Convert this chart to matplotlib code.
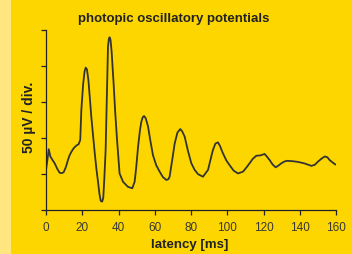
import numpy as np
import matplotlib.pyplot as plt

# latency (ms) and amplitude (divisions of 50 µV)
latency = [0, 0.8, 1.5, 2.4, 3.5, 4.8, 6.2, 7.5, 8.6, 9.7, 11, 12.1, 13, 14,
           15.3, 16.7, 18, 18.9, 19.5, 20.5, 21.3, 21.9, 22.6, 23.4, 24.2, 25,
           26, 26.9, 27.8, 28.7, 29.5, 30.2, 31, 31.6, 32.2, 32.9, 33.6, 34.2,
           34.7, 35.1, 35.6, 36.2, 37.3, 38.2, 39.2, 40.6, 42.5, 45.2, 47.6,
           48.9, 49.8, 50.8, 51.8, 52.6, 53.4, 54.1, 55, 56.3, 57.5, 59, 60.8,
           62.7, 64.5, 66.4, 67.5, 68.2, 69.5, 71, 72.5, 74.1, 75.2, 76.5,
           78.3, 80.2, 82, 83.9, 86.6, 89.4, 91, 92.1, 93.5, 94.9, 96, 97.6,
           99.5, 101.3, 103.5, 105.9, 108.7, 110.5, 112.3, 114, 116, 118.3,
           120.6, 122, 123.4, 125, 126.7, 128.3, 129.8, 131.5, 133, 136, 139,
           142.5, 146.4, 148.3, 150.1, 152, 153.8, 155.2, 156.5, 158, 159.6]
amplitude = [1.12, 1.4, 1.69, 1.49, 1.40, 1.30, 1.15, 1.04, 1.03, 1.05, 1.2,
             1.39, 1.52, 1.62, 1.72, 1.79, 1.83, 1.95, 2.78, 3.5, 3.85, 3.95,
             3.9, 3.6, 3.1, 2.59, 2.05, 1.58, 1.15, 0.79, 0.45, 0.26, 0.24,
             0.35, 0.9, 1.67, 3.2, 4.53, 4.75, 4.79, 4.72, 4.4, 3.51, 2.7, 1.95,
             1.02, 0.79, 0.65, 0.61, 0.79, 1.2, 1.76, 2.2, 2.45, 2.58, 2.61,
             2.55, 2.32, 1.95, 1.53, 1.25, 1.07, 0.92, 0.84, 0.86, 0.93, 1.35,
             1.85, 2.15, 2.25, 2.18, 2.04, 1.65, 1.30, 1.12, 1.00, 0.93, 1.12,
             1.45, 1.67, 1.85, 1.88, 1.78, 1.58, 1.38, 1.25, 1.10, 1.02, 1.07,
             1.18, 1.30, 1.42, 1.51, 1.52, 1.56, 1.48, 1.39, 1.27, 1.19, 1.24,
             1.30, 1.35, 1.37, 1.36, 1.34, 1.30, 1.23, 1.26, 1.35, 1.43, 1.49,
             1.47, 1.39, 1.33, 1.27]

x_ticks = [0, 20, 40, 60, 80, 100, 120, 140, 160]
y_ticks = [0, 1, 2, 3, 4, 5]

bg = '#FDD600'
plt.rcParams['font.family'] = ['Liberation Sans', 'DejaVu Sans']

fig = plt.figure(figsize=(3.52, 2.54), dpi=100, facecolor=bg)
# lighter strip on the left edge
fig.patches.append(plt.Rectangle((0, 0), 11 / 352, 1, transform=fig.transFigure,
                                 facecolor='#FFE680', edgecolor='none', zorder=0))

ax = fig.add_axes([46 / 352, 1 - 210.3 / 254, 290 / 352, (210.3 - 29.7) / 254])
ax.set_facecolor(bg)
ax.plot(latency, amplitude, color='#333333', lw=1.3, solid_joinstyle='round')

ax.set_xlim(0, 160)
ax.set_ylim(0, 5)
ax.set_xticks(x_ticks)
ax.set_yticks(y_ticks)
ax.set_yticklabels([])
ax.tick_params(labelsize=8.5, length=3.5, width=0.9, color='#222222',
               labelcolor='#383838', pad=5)
for s in ('top', 'right'):
    ax.spines[s].set_visible(False)
for s in ('left', 'bottom'):
    ax.spines[s].set_linewidth(0.9)
    ax.spines[s].set_color('#222222')

fig.text(174 / 352, 1 - 19 / 254, 'photopic oscillatory potentials', ha='center',
         va='center', fontsize=9.5, fontweight='bold', color='#222222')
fig.text(190 / 352, 1 - 245 / 254, 'latency [ms]', ha='center', va='center',
         fontsize=9.5, fontweight='bold', color='#222222')
fig.text(29 / 352, 1 - 117 / 254, '50 µV / div.', ha='center', va='center',
         rotation=90, fontsize=10, fontweight='bold', color='#222222')

fig.savefig('out.png', dpi=100, facecolor=bg)
